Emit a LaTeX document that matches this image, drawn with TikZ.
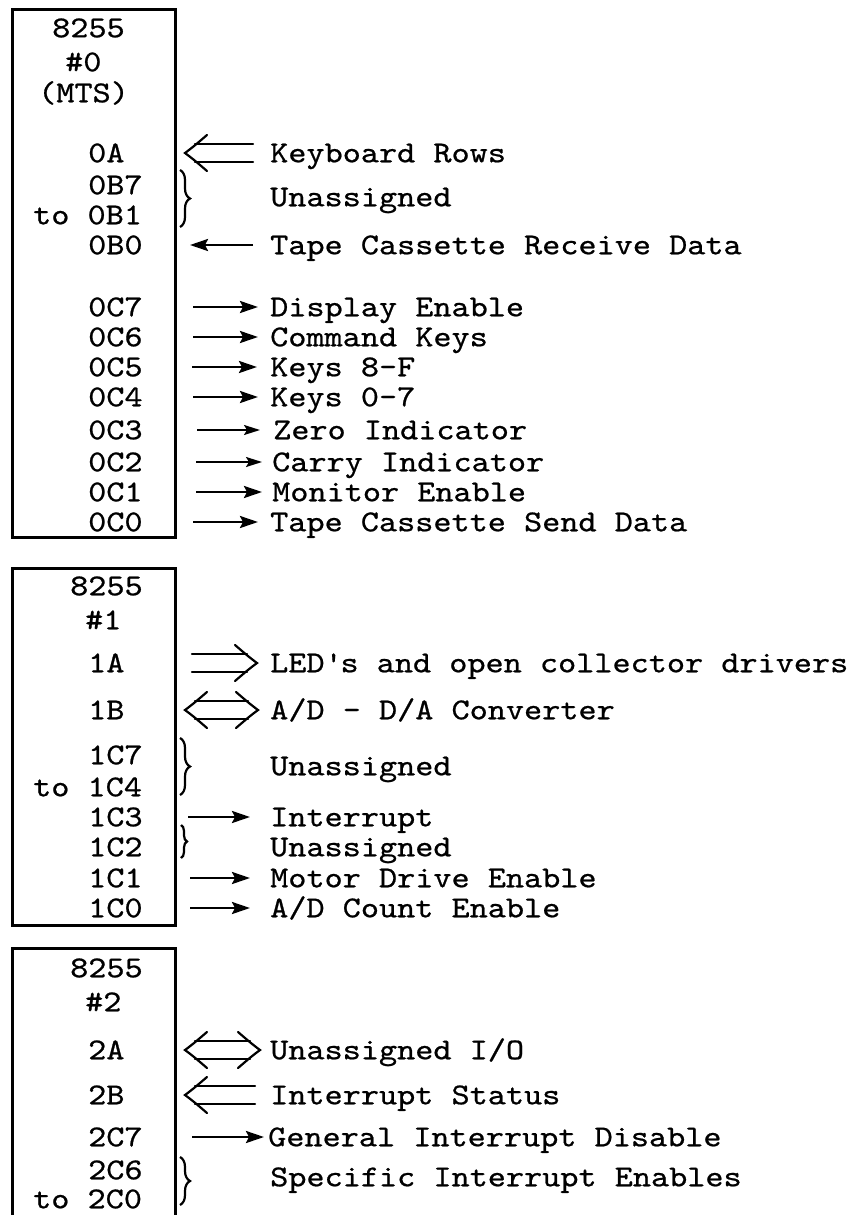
\documentclass[tikz,border=0pt]{standalone}
\usepackage{fontspec}
\newfontfamily\tw{lmmono10-regular.otf}[FakeStretch=1.14,FakeBold=0.7]
\usetikzlibrary{arrows.meta,decorations.pathreplacing}
\tikzset{
  txt/.style={anchor=west, inner sep=0pt, text height=18.5pt, text depth=0pt, font=\tw\fontsize{30.3}{36}\selectfont},
  box/.style={line width=3pt, line join=miter},
  sarr/.style={line width=2.6pt, -{Stealth[length=18pt,width=12pt,inset=3pt]}},
  tarr/.style={line width=1.8pt, -{Stealth[length=16pt,width=10pt,inset=3pt]}},
  dbl/.style={line width=2.2pt, line cap=round},
  brc/.style={line width=2.2pt, decorate, decoration={brace, amplitude=10pt}},
}
\newcommand\dhead[3]{%
  \draw[dbl] ([shift={({#2+(#3)*22},-18)}]#1.west) .. controls ([shift={({#2+(#3)*8},-6)}]#1.west) .. ([shift={(#2,0)}]#1.west) .. controls ([shift={({#2+(#3)*8},6)}]#1.west) .. ([shift={({#2+(#3)*22},18)}]#1.west);}
\newcommand\dlines[3]{%
  \draw[dbl] ([shift={(#2,-9)}]#1.west) -- ([shift={(#3,-9)}]#1.west)
             ([shift={(#2,9)}]#1.west) -- ([shift={(#3,9)}]#1.west);}
\begin{document}
\begin{tikzpicture}[x=1pt,y=-1pt]
\useasboundingbox (0,0) rectangle (857,1215);
% boxes
\draw[box] (12,10) -- (175,10) -- (175,537) -- (12,537) -- cycle;
\draw[box] (12,568) -- (175,568) -- (175,925) -- (12,925) -- cycle;
\draw[box] (12,1215) -- (12,948) -- (175,948) -- (175,1215);
% box 0 labels
\node[txt] (h0a) at (52,28) {8255};
\node[txt] (h0b) at (65,62) {\#0};
\node[txt] (h0c) at (38,93) {(MTS)};
\node[txt] (l0A) at (88,153) {0A};
\node[txt] (l0B7) at (88,185) {0B7};
\node[txt] (l0B1) at (33,215) {to 0B1};
\node[txt] (l0B0) at (88,245) {0B0};
\node[txt] (l0C7) at (88,307) {0C7};
\node[txt] (l0C6) at (88,337) {0C6};
\node[txt] (l0C5) at (88,367) {0C5};
\node[txt] (l0C4) at (88,397) {0C4};
\node[txt] (l0C3) at (88,430) {0C3};
\node[txt] (l0C2) at (88,462) {0C2};
\node[txt] (l0C1) at (88,492) {0C1};
\node[txt] (l0C0) at (88,522) {0C0};
% box 1 labels
\node[txt] (h1a) at (70,586) {8255};
\node[txt] (h1b) at (85,620) {\#1};
\node[txt] (l1A) at (88,663) {1A};
\node[txt] (l1B) at (88,710) {1B};
\node[txt] (l1C7) at (88,755) {1C7};
\node[txt] (l1C4) at (33,787) {to 1C4};
\node[txt] (l1C3) at (88,817) {1C3};
\node[txt] (l1C2) at (88,847) {1C2};
\node[txt] (l1C1) at (88,878) {1C1};
\node[txt] (l1C0) at (88,908) {1C0};
% box 2 labels
\node[txt] (h2a) at (70,968) {8255};
\node[txt] (h2b) at (85,1002) {\#2};
\node[txt] (l2A) at (88,1050) {2A};
\node[txt] (l2B) at (88,1095) {2B};
\node[txt] (l2C7) at (88,1137) {2C7};
\node[txt] (l2C6) at (88,1170) {2C6};
\node[txt] (l2C0) at (33,1199) {to 2C0};
% right texts
\node[txt] (r0A) at (270,153) {Keyboard Rows};
\node[txt] (r0B) at (270,197) {Unassigned};
\node[txt] (r0B0) at (270,245) {Tape Cassette Receive Data};
\node[txt] (r0C7) at (270,307) {Display Enable};
\node[txt] (r0C6) at (270,337) {Command Keys};
\node[txt] (r0C5) at (270,367) {Keys 8-F};
\node[txt] (r0C4) at (270,397) {Keys 0-7};
\node[txt] (r0C3) at (273,430) {Zero Indicator};
\node[txt] (r0C2) at (272,462) {Carry Indicator};
\node[txt] (r0C1) at (272,492) {Monitor Enable};
\node[txt] (r0C0) at (270,522) {Tape Cassette Send Data};
\node[txt] (r1A) at (270,663) {LED\textquotesingle s and open collector drivers};
\node[txt] (r1B) at (270,710) {A/D - D/A Converter};
\node[txt] (r1C7) at (270,766) {Unassigned};
\node[txt] (r1C3) at (270,817) {Interrupt};
\node[txt] (r1C2) at (270,847) {Unassigned};
\node[txt] (r1C1) at (270,878) {Motor Drive Enable};
\node[txt] (r1C0) at (270,908) {A/D Count Enable};
\node[txt] (r2A) at (270,1050) {Unassigned I/O};
\node[txt] (r2B) at (270,1095) {Interrupt Status};
\node[txt] (r2C7) at (268,1137) {General Interrupt Disable};
\node[txt] (r2C6) at (270,1177) {Specific Interrupt Enables};
% double arrows
\dhead{r0A}{-85}{1}\dlines{r0A}{-75}{-17}
\dhead{r1A}{-13}{-1}\dlines{r1A}{-78}{-23}
\dhead{r1B}{-85}{1}\dhead{r1B}{-12}{-1}\dlines{r1B}{-75}{-22}
\dhead{r2A}{-85}{1}\dhead{r2A}{-10}{-1}\dlines{r2A}{-75}{-20}
\dhead{r2B}{-85}{1}\dlines{r2B}{-75}{-15}
% single arrows
\draw[sarr] ([xshift=-17pt]r0B0.west) -- ([xshift=-80pt]r0B0.west);
\draw[sarr] ([xshift=-77pt]r0C7.west) -- ([xshift=-12pt]r0C7.west);
\draw[sarr] ([xshift=-77pt]r0C6.west) -- ([xshift=-12pt]r0C6.west);
\draw[sarr] ([xshift=-78pt]r0C5.west) -- ([xshift=-13pt]r0C5.west);
\draw[sarr] ([xshift=-77pt]r0C4.west) -- ([xshift=-12pt]r0C4.west);
\draw[tarr] ([xshift=-76pt]r0C3.west) -- ([xshift=-13pt]r0C3.west);
\draw[tarr] ([xshift=-76pt]r0C2.west) -- ([xshift=-10pt]r0C2.west);
\draw[sarr] ([xshift=-76pt]r0C1.west) -- ([xshift=-10pt]r0C1.west);
\draw[sarr] ([xshift=-77pt]r0C0.west) -- ([xshift=-12pt]r0C0.west);
\draw[sarr] ([xshift=-82pt]r1C3.west) -- ([xshift=-20pt]r1C3.west);
\draw[sarr] ([xshift=-80pt]r1C1.west) -- ([xshift=-20pt]r1C1.west);
\draw[sarr] ([xshift=-80pt]r1C0.west) -- ([xshift=-20pt]r1C0.west);
\draw[sarr] ([xshift=-76pt]r2C7.west) -- ([xshift=-4pt]r2C7.west);
% braces
\draw[brc] (180,170) -- (180,227);
\draw[brc] (180,738) -- (180,795);
\draw[brc, decoration={brace, amplitude=6pt}] (181,825) -- (181,858);
\draw[brc] (180,1157) -- (180,1205);
\end{tikzpicture}
\end{document}
